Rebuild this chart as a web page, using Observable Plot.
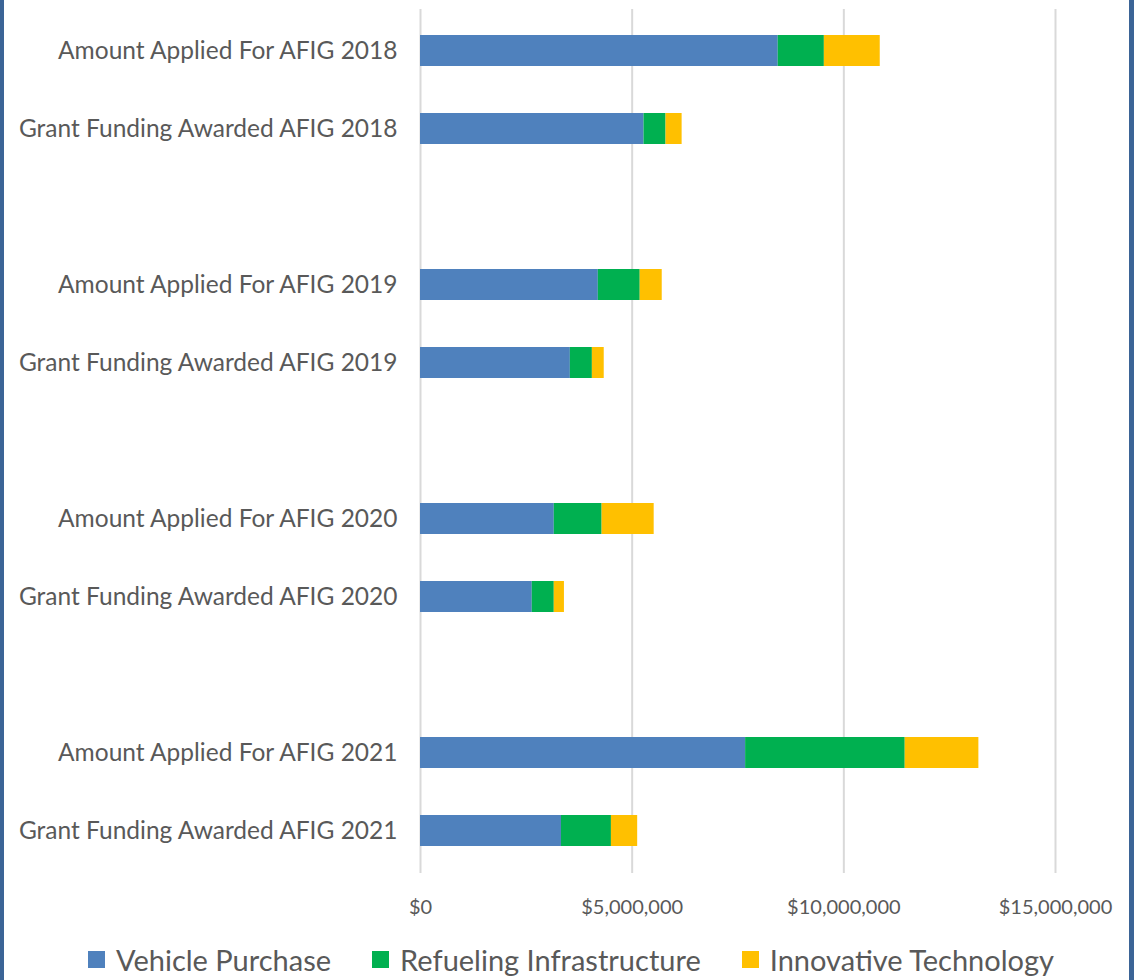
<!DOCTYPE html>
<html>
<head>
<meta charset="utf-8">
<script src="https://cdn.jsdelivr.net/npm/d3@7"></script>
<script src="https://cdn.jsdelivr.net/npm/@observablehq/plot@0.6"></script>
<style>
  html, body { margin: 0; padding: 0; background: #fff; }
  body { width: 1142px; height: 980px; position: relative; overflow: hidden; font-family: Lato, "Open Sans", sans-serif; }
  #chart { position: absolute; left: 0; top: 0; }
  .border-l { position: absolute; left: 0; top: 0; width: 4px; height: 980px; background: #3b6496; }
  .border-r { position: absolute; left: 1129px; top: 0; width: 5px; height: 980px; background: #3b6496; }
  #legend { position: absolute; left: 0; width: 1142px; top: 942px; display: flex; justify-content: center; align-items: center; gap: 41px; color: #595959; font-size: 29px; }
  #legend .item { display: flex; align-items: center; gap: 11px; }
  #legend .sw { width: 17px; height: 17px; display: inline-block; }
</style>
</head>
<body>
<div id="chart"></div>
<div class="border-l"></div>
<div class="border-r"></div>
<div id="legend"></div>
<script>
// Category rows (top to bottom); "gap" rows are empty spacer rows
const categories = [
  "Amount Applied For AFIG 2018", "Grant Funding Awarded AFIG 2018", "gap1",
  "Amount Applied For AFIG 2019", "Grant Funding Awarded AFIG 2019", "gap2",
  "Amount Applied For AFIG 2020", "Grant Funding Awarded AFIG 2020", "gap3",
  "Amount Applied For AFIG 2021", "Grant Funding Awarded AFIG 2021"
];
const barCategories = [
  "Amount Applied For AFIG 2018", "Grant Funding Awarded AFIG 2018",
  "Amount Applied For AFIG 2019", "Grant Funding Awarded AFIG 2019",
  "Amount Applied For AFIG 2020", "Grant Funding Awarded AFIG 2020",
  "Amount Applied For AFIG 2021", "Grant Funding Awarded AFIG 2021"
];
const seriesNames = ["Vehicle Purchase", "Refueling Infrastructure", "Innovative Technology"];
const vehiclePurchase        = [8450000, 5280000, 4200000, 3540000, 3160000, 2640000, 7680000, 3330000];
const refuelingInfrastructure = [1090000,  520000,  990000,  520000, 1130000,  520000, 3770000, 1180000];
const innovativeTechnology   = [1320000,  380000,  520000,  280000, 1230000,  240000, 1740000,  620000];
const seriesColors = ["#4f81bd", "#00b050", "#ffc000"];
const xTicks = [0, 5000000, 10000000, 15000000];

const seriesValues = [vehiclePurchase, refuelingInfrastructure, innovativeTechnology];
const rows = [];
seriesNames.forEach((s, si) => {
  barCategories.forEach((c, ci) => rows.push({category: c, series: s, value: seriesValues[si][ci]}));
});

const fmt = d => "$" + d3.format(",")(d);

const chart = Plot.plot({
  width: 1142,
  height: 935,
  marginTop: 9,
  marginBottom: 62,
  marginLeft: 420,
  marginRight: 87,
  style: { fontFamily: "Lato, 'Open Sans', sans-serif", color: "#595959", background: "transparent" },
  x: { domain: [0, 15000000], ticks: xTicks, tickFormat: fmt, label: null },
  y: { domain: categories, paddingInner: 0.6, paddingOuter: 0.3, label: null },
  color: { domain: seriesNames, range: seriesColors },
  marks: [
    Plot.ruleX(xTicks, { stroke: "#d9d9d9", strokeWidth: 2 }),
    Plot.barX(rows, Plot.stackX({ y: "category", x: "value", fill: "series", order: seriesNames })),
    Plot.axisX({ ticks: xTicks, tickFormat: fmt, tickSize: 0, tickPadding: 26, fontSize: 20, fill: "#595959", label: null }),
    Plot.axisY({ tickSize: 0, tickPadding: 23, fontSize: 24.5, fill: "#595959", label: null,
                 tickFormat: d => d.startsWith("gap") ? "" : d })
  ]
});
document.getElementById("chart").appendChild(chart);

const legend = document.getElementById("legend");
seriesNames.forEach((s, i) => {
  const item = document.createElement("div");
  item.className = "item";
  const sw = document.createElement("span");
  sw.className = "sw";
  sw.style.background = seriesColors[i];
  const t = document.createElement("span");
  t.textContent = s;
  item.appendChild(sw);
  item.appendChild(t);
  legend.appendChild(item);
});
</script>
</body>
</html>
